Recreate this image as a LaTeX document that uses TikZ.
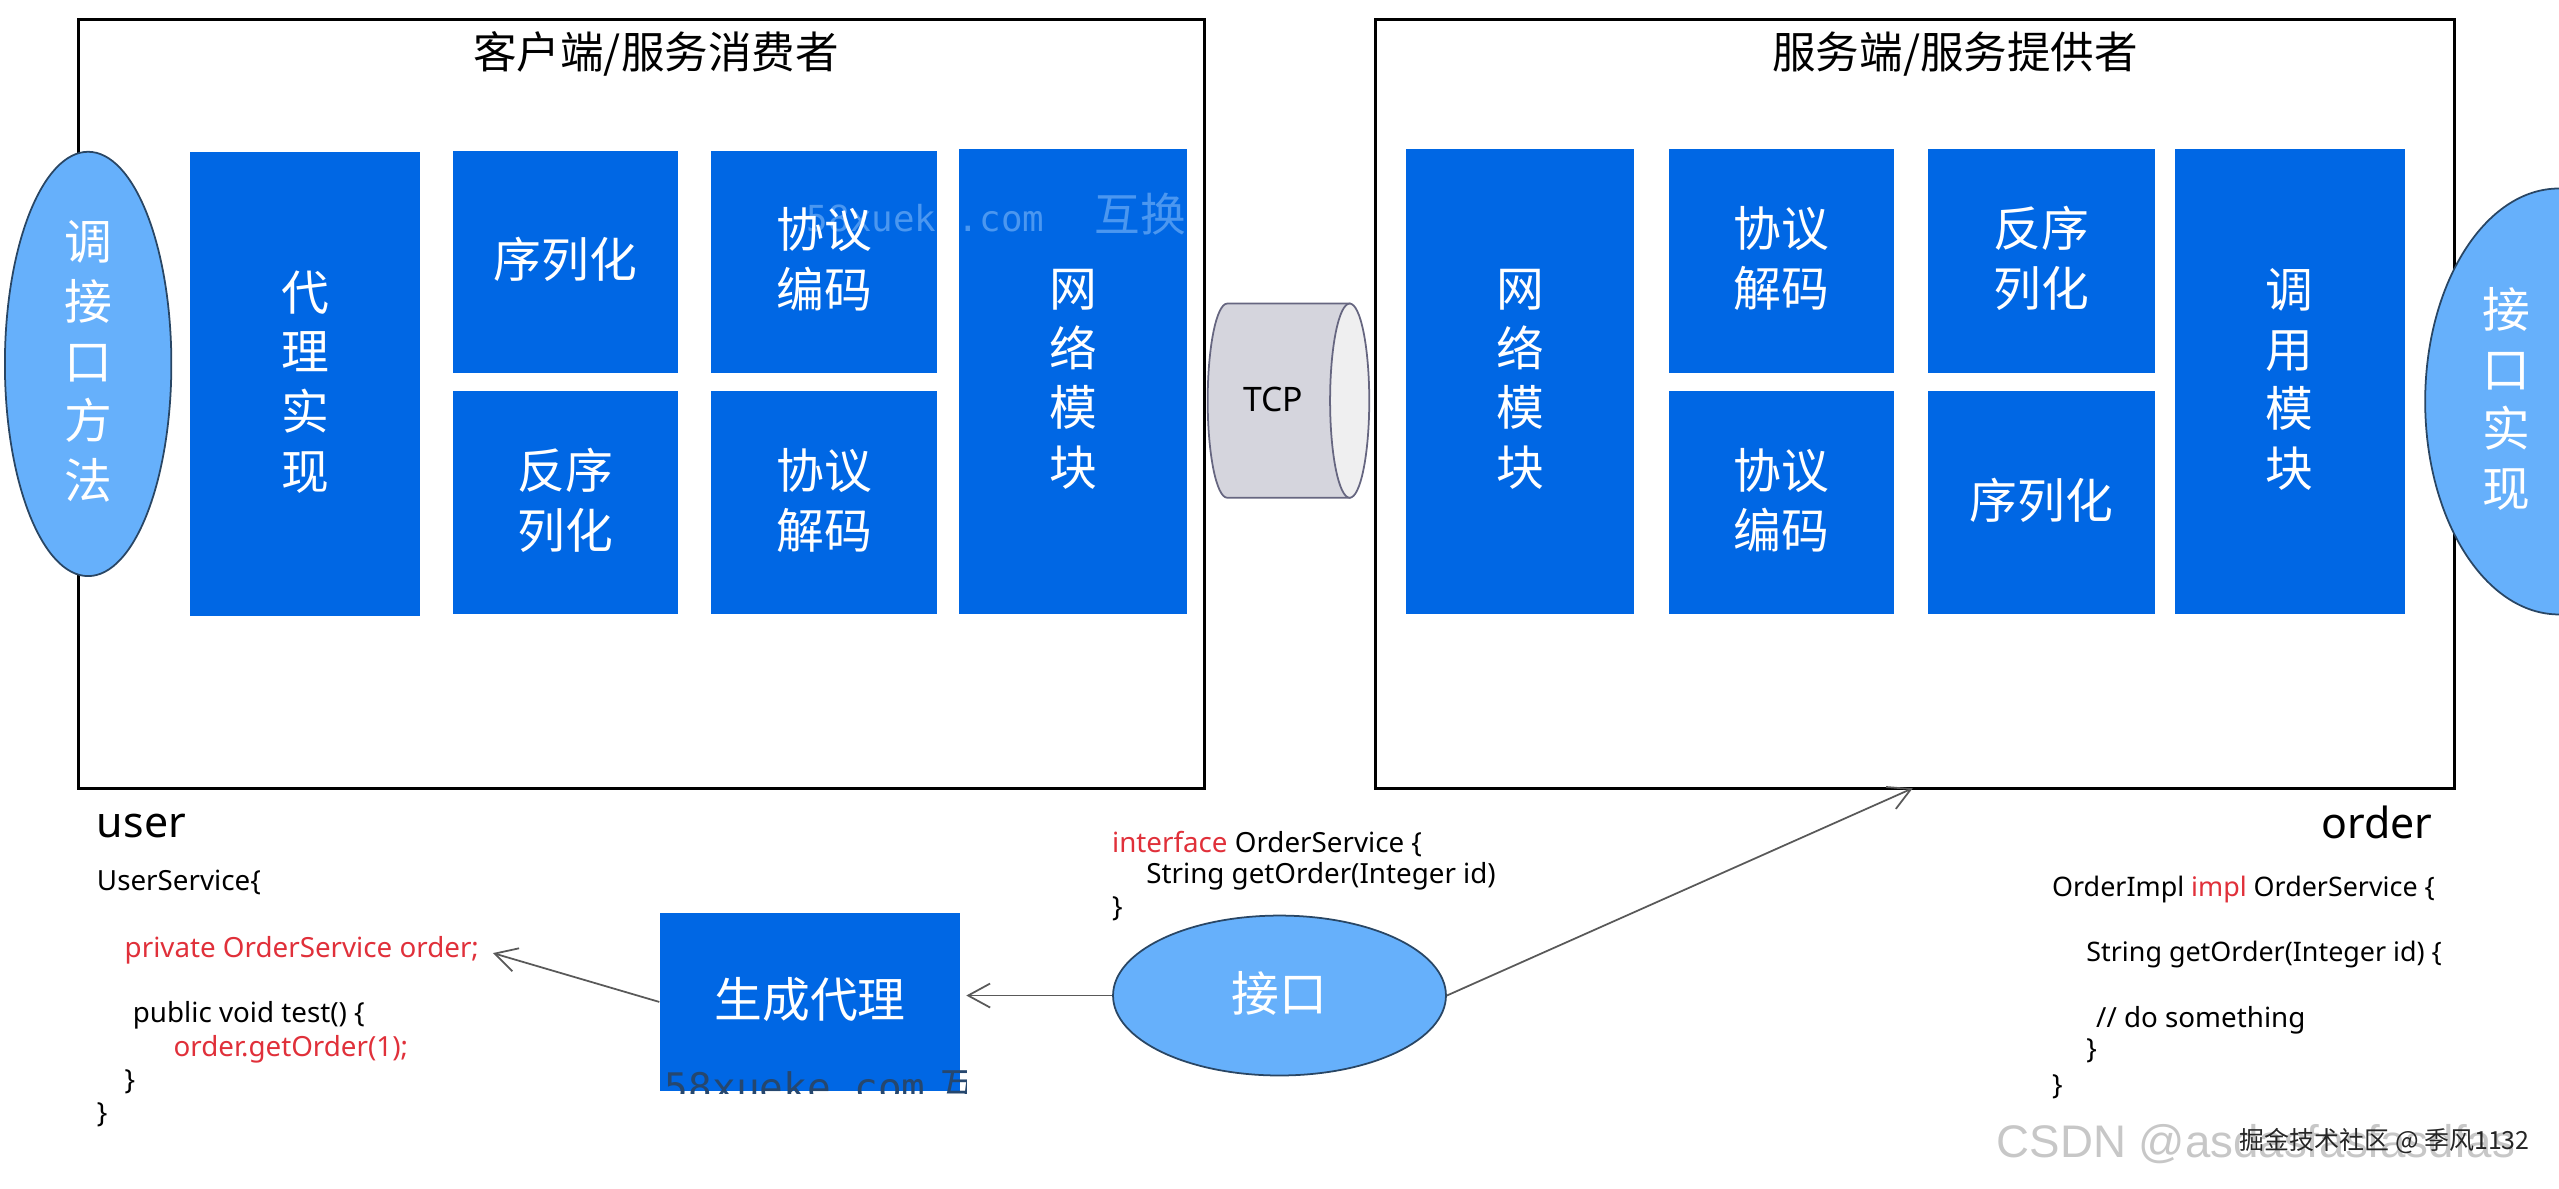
\documentclass[tikz,border=0pt]{standalone}
\usepackage{fontspec}
\setmainfont{Noto Sans}
\newfontfamily\cjkfont{Noto Sans CJK SC}
\newfontfamily\markfont{DejaVu Sans Mono}
\newfontfamily\footfont{Liberation Sans}
\usetikzlibrary{arrows.meta,shapes.geometric}
\definecolor{blockblue}{HTML}{0067E4}
\definecolor{skyblue}{HTML}{66B0FB}
\definecolor{markblue}{HTML}{4B97F0}
\definecolor{codered}{HTML}{E0303A}
\newcommand{\red}[1]{\textcolor{codered}{#1}}
\tikzset{
  block/.style={anchor=north west,fill=blockblue,inner sep=0pt},
  blocktext/.style={text=white,align=center,inner sep=0pt,yshift=0.7pt,
    font=\cjkfont\fontsize{13.6}{17}\selectfont},
  iface/.style={ellipse,draw=black!60!skyblue,line width=0.5pt,fill=skyblue,inner sep=0pt},
  frame/.style={draw=black,line width=0.9pt,anchor=north west,inner sep=0pt},
  heading/.style={font=\cjkfont\fontsize{12.4}{14}\selectfont},
  codeline/.style={anchor=west,inner sep=0pt,font=\fontsize{7.9}{9}\selectfont},
  owner/.style={inner sep=0pt,font=\fontsize{12.2}{14}\selectfont},
  link/.style={->,>={Straight Barb[length=2.2mm,width=2.4mm]},draw=black!65,line width=0.5pt}
}
\begin{document}
\begin{tikzpicture}[x=0.01632cm,y=-0.01632cm]
\def\px{0.01632cm}
\useasboundingbox (0,0) rectangle (1568,728);
\clip (0,0) rectangle (1568,728);
% ================= frames =================
\node[frame,minimum width=690*\px,minimum height=471*\px] (client) at (47,11) {};
\node[frame,minimum width=661*\px,minimum height=471*\px] (server) at (842,11) {};
\node[heading] (clienttitle) at (402,33) {客户端/服务消费者};
\node[heading] (servertitle) at (1198,33) {服务端/服务提供者};
% ================= blue blocks =================
\def\blocklist{
  proxy/116/93/141/284/{代\\理\\实\\现},
  cser/277/92/138/136/{序列化},
  cdes/277/239/138/137/{反序\\列化},
  cenc/435/92/139/136/{协议\\编码},
  cdec/435/239/139/137/{协议\\解码},
  cnet/587/91/140/285/{网\\络\\模\\块},
  snet/861/91/140/285/{网\\络\\模\\块},
  sdec/1022/91/138/137/{协议\\解码},
  senc/1022/239/138/137/{协议\\编码},
  sdes/1181/91/139/137/{反序\\列化},
  sser/1181/239/139/137/{序列化},
  scall/1332/91/141/285/{调\\用\\模\\块},
  gen/404/559/184/109/{生成代理}}
\foreach \name/\xx/\yy/\ww/\hh/\txt in \blocklist {
  \node[block,minimum width=\ww*\px,minimum height=\hh*\px] (\name) at (\xx,\yy) {};
}
% watermark, only seen on the blue
\begin{scope}
  \clip (435,92) rectangle (574,228) (587,91) rectangle (727,228);
  \node[anchor=base west,inner sep=0pt,text=markblue,font=\markfont\fontsize{10.2}{12}\selectfont] (markone) at (494,142)
    {58xueke.com\hspace*{14.3pt}{\cjkfont\fontsize{13}{13}\selectfont 互换}};
\end{scope}
\begin{scope}
  \clip (404,650) rectangle (592,670);
  \node[anchor=base west,inner sep=0pt,text=black!55!blockblue!70!gray,font=\markfont\fontsize{11.2}{13}\selectfont] (marktwo) at (407,675)
    {58xueke.com\hspace*{4pt}{\cjkfont 互}};
\end{scope}
\foreach \name/\xx/\yy/\ww/\hh/\txt in \blocklist {
  \node[blocktext] (\name txt) at (\name) {\txt};
}
% ================= ellipses =================
\node[iface,minimum width=102*\px,minimum height=260*\px] (call) at (54,223) {};
\node[iface,minimum width=164*\px,minimum height=261*\px] (impl) at (1568,246) {};
\node[iface,minimum width=204*\px,minimum height=98*\px] (api) at (784,610) {};
\node[blocktext] (calltxt) at (call) {调\\接\\口\\方\\法};
\node[blocktext] (impltxt) at (1536,246) {接\\口\\实\\现};
\node[blocktext] (apitxt) at (api) {接口};
% ================= TCP =================
\draw[draw=black!50!blue!20!gray,line width=0.5pt,fill=blue!10!gray!30]
  (827,186) -- (752,186) arc[start angle=270,end angle=90,x radius=12,y radius=59.5] -- (827,305) -- cycle;
\draw[draw=black!50!blue!20!gray,line width=0.5pt,fill=blue!5!gray!12] (827,245.5) ellipse (12 and 59.5);
\node[inner sep=0pt,font=\fontsize{9.6}{11}\selectfont] (tcp) at (780,245) {TCP};
% ================= code =================
\node[owner,anchor=west] (user) at (59,506) {user};
\node[owner,anchor=east] (order) at (1491,504) {order};
\foreach \name/\xx/\yy/\txt in {
  usersvc/59/541/{UserService\{},
  field/76/582/{\red{private OrderService order;}},
  test/81/622/{public void test() \{},
  callline/106/643/{\red{order.getOrder(1);}},
  testend/76/663/{\}},
  userend/59/683/{\}},
  decl/681/517/{\red{interface} OrderService \{},
  sign/702/537/{String getOrder(Integer id)},
  declend/681/557/{\}},
  todo/1284/625/{// do something},
  methodend/1278/644/{\}},
  orderend/1257/666/{\}}} {
  \node[codeline] (\name) at (\xx,\yy) {\txt};
}
\foreach \name/\xx/\yy/\txt in {
  orderimpl/1257/545/{OrderImpl \red{impl} OrderService \{},
  method/1278/585/{String getOrder(Integer id) \{}} {
  \node[codeline,font=\fontsize{7.65}{9}\selectfont] (\name) at (\xx,\yy) {\txt};
}
% ================= connectors =================
\coordinate (fieldend) at (302,584);
\coordinate (servertip) at (1172,483);
\draw[link,shorten >=1.5pt] (api.west) -- (api.west -| gen.east);
\draw[link] (gen.west) -- (fieldend);
\draw[link] (api.east) -- (servertip);
% ================= footer marks =================
\node[anchor=west,inner sep=0pt,text=black!22,font=\footfont\fontsize{13}{15}\selectfont] (csdn) at (1223,701) {CSDN @asdasfasfasdfas};
\node[anchor=west,inner sep=0pt,text=black!85,font=\cjkfont\fontsize{7.1}{9}\selectfont] (juejin) at (1372,699) {掘金技术社区 @ 季风1132};
\end{tikzpicture}
\end{document}
